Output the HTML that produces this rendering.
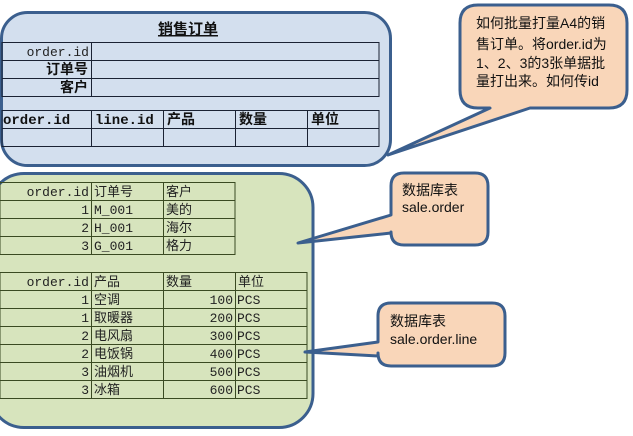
<!DOCTYPE html>
<html><head><meta charset="utf-8"><style>
body{margin:0;width:633px;height:436px;background:#fff;overflow:hidden}
svg{display:block}
.t{font-family:"Liberation Mono","Noto Sans CJK SC",monospace;font-size:13px;fill:#222}
.b{font-weight:bold;fill:#111}
.c{font-family:"Liberation Sans","Noto Sans CJK SC",sans-serif;font-size:14px;fill:#111}
</style></head><body>
<svg width="633" height="436" viewBox="0 0 633 436">
<!-- blue box -->
<rect x="1.5" y="12.5" width="389" height="153" rx="26" fill="#d3dfee" stroke="#3b5f8e" stroke-width="3"/>
<text x="188" y="34" text-anchor="middle" class="c" style="font-weight:bold;font-size:15px;text-decoration:underline">销售订单</text>
<g stroke="#1a2233" stroke-width="1" fill="none">
<rect x="2" y="42.5" width="377" height="54"/>
<line x1="2" y1="60.5" x2="379" y2="60.5"/><line x1="2" y1="78.5" x2="379" y2="78.5"/>
<line x1="91.5" y1="42" x2="91.5" y2="96"/>
<rect x="2" y="110.5" width="377" height="36"/>
<line x1="2" y1="128.5" x2="379" y2="128.5"/>
<line x1="91.5" y1="110" x2="91.5" y2="146"/><line x1="163.5" y1="110" x2="163.5" y2="146"/>
<line x1="235.5" y1="110" x2="235.5" y2="146"/><line x1="307.5" y1="110" x2="307.5" y2="146"/>
</g>
<text x="89" y="56" text-anchor="end" class="t">order.id</text>
<text x="88" y="74" text-anchor="end" class="t b" style="font-size:14px">订单号</text>
<text x="88" y="92" text-anchor="end" class="t b" style="font-size:14px">客户</text>
<text x="3" y="124" class="t b" style="font-size:14px">order.id</text>
<text x="95" y="124" class="t b" style="font-size:14px">line.id</text>
<text x="167" y="124" class="t b" style="font-size:14px">产品</text>
<text x="239" y="124" class="t b" style="font-size:14px">数量</text>
<text x="311" y="124" class="t b" style="font-size:14px">单位</text>

<!-- green box -->
<line x1="0" y1="181.5" x2="14" y2="181.5" stroke="#000"/>
<rect x="-10" y="173.5" width="323" height="254" rx="34" fill="#d7e4bd" stroke="#3b5f8e" stroke-width="3"/>
<g stroke="#3a4a22" stroke-width="1" fill="none">
<rect x="0" y="182.5" width="235" height="72"/>
<line x1="0" y1="200.5" x2="235" y2="200.5"/><line x1="0" y1="218.5" x2="235" y2="218.5"/><line x1="0" y1="236.5" x2="235" y2="236.5"/>
<line x1="91.5" y1="182" x2="91.5" y2="254"/><line x1="163.5" y1="182" x2="163.5" y2="254"/>
<rect x="0" y="272.5" width="307" height="126"/>
<line x1="0" y1="290.5" x2="307" y2="290.5"/><line x1="0" y1="308.5" x2="307" y2="308.5"/><line x1="0" y1="326.5" x2="307" y2="326.5"/>
<line x1="0" y1="344.5" x2="307" y2="344.5"/><line x1="0" y1="362.5" x2="307" y2="362.5"/><line x1="0" y1="380.5" x2="307" y2="380.5"/>
<line x1="91.5" y1="272" x2="91.5" y2="398"/><line x1="163.5" y1="272" x2="163.5" y2="398"/><line x1="235.5" y1="272" x2="235.5" y2="398"/>
</g>
<g class="t">
<text x="89" y="196" text-anchor="end">order.id</text><text x="94" y="196">订单号</text><text x="166" y="196">客户</text>
<text x="89" y="214" text-anchor="end">1</text><text x="94" y="214">M_001</text><text x="166" y="214">美的</text>
<text x="89" y="232" text-anchor="end">2</text><text x="94" y="232">H_001</text><text x="166" y="232">海尔</text>
<text x="89" y="250" text-anchor="end">3</text><text x="94" y="250">G_001</text><text x="166" y="250">格力</text>
<text x="89" y="286" text-anchor="end">order.id</text><text x="94" y="286">产品</text><text x="166" y="286">数量</text><text x="238" y="286">单位</text>
<text x="89" y="304" text-anchor="end">1</text><text x="94" y="304">空调</text><text x="233" y="304" text-anchor="end">100</text><text x="237" y="304">PCS</text>
<text x="89" y="322" text-anchor="end">1</text><text x="94" y="322">取暖器</text><text x="233" y="322" text-anchor="end">200</text><text x="237" y="322">PCS</text>
<text x="89" y="340" text-anchor="end">2</text><text x="94" y="340">电风扇</text><text x="233" y="340" text-anchor="end">300</text><text x="237" y="340">PCS</text>
<text x="89" y="358" text-anchor="end">2</text><text x="94" y="358">电饭锅</text><text x="233" y="358" text-anchor="end">400</text><text x="237" y="358">PCS</text>
<text x="89" y="376" text-anchor="end">3</text><text x="94" y="376">油烟机</text><text x="233" y="376" text-anchor="end">500</text><text x="237" y="376">PCS</text>
<text x="89" y="394" text-anchor="end">3</text><text x="94" y="394">冰箱</text><text x="233" y="394" text-anchor="end">600</text><text x="237" y="394">PCS</text>
</g>

<!-- callouts -->
<g fill="#f9d6b9" stroke="#3b5f8e" stroke-width="3" stroke-linejoin="round">
<path d="M478,5 H609 Q627,5 627,23 V90 Q627,108 609,108 H530 L388,155 L490,108 H478 Q460,108 460,90 V23 Q460,5 478,5 Z"/>
<path d="M404,173 H475 Q488,173 488,186 V232 Q488,245 475,245 H404 Q391,245 391,232 V233 L298,243 L391,215 V186 Q391,173 404,173 Z"/>
<path d="M391,303 H492 Q505,303 505,316 V353 Q505,366 492,366 H391 Q378,366 378,353 V356 L305,352 L378,342 V316 Q378,303 391,303 Z"/>
</g>
<g class="c">
<text x="476" y="28">如何批量打量A4的销</text>
<text x="476" y="49">售订单。将order.id为</text>
<text x="476" y="68">1、2、3的3张单据批</text>
<text x="476" y="86">量打出来。如何传id</text>
<text x="402" y="195">数据库表</text>
<text x="402" y="212">sale.order</text>
<text x="390" y="326">数据库表</text>
<text x="390" y="344">sale.order.line</text>
</g>
</svg>
</body></html>
